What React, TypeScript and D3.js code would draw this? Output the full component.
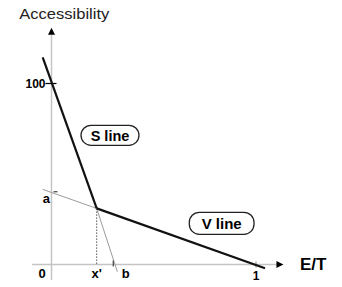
import React from "react";
import * as d3 from "d3";

// Data (in chart units: x = E/T, y = Accessibility)
const corner: [number, number] = [0.221, 31.0];
const sLine: [number, number][] = [[-0.043, 114.5], corner];
const vLine: [number, number][] = [corner, [1.044, -2.1]];
const aLine: [number, number][] = [[-0.043, 41.5], corner];
const bLine: [number, number][] = [corner, [0.322, -4.0]];
const aValue = 40.2;
const bValue = 0.302;
const yTickValues = [100];
const xTickValues = [1];
const xAxisExtent = [-0.095, 1.1];
const yAxisExtent = [-8.6, 127];

const W = 342;
const H = 287;
const FONT = "'Liberation Sans', Arial, Helvetica, sans-serif";

export default function App() {
  const x = d3.scaleLinear().domain([0, 1]).range([51.5, 256]);
  const y = d3.scaleLinear().domain([0, 100]).range([264.5, 83.5]);
  const line = d3
    .line<[number, number]>()
    .x((d) => x(d[0]))
    .y((d) => y(d[1]));

  const axisColor = "#c4c4c4";
  const x0 = x(0);
  const y0 = y(0);
  const yTop = y(yAxisExtent[1]);
  const xRight = x(xAxisExtent[1]);

  return (
    <svg
      width={W}
      height={H}
      style={{ position: "absolute", left: 0, top: 0, background: "#fff" }}
      fontFamily={FONT}
    >
      {/* axes */}
      <line x1={x0} y1={y(yAxisExtent[0])} x2={x0} y2={yTop} stroke={axisColor} strokeWidth={1.5} />
      <line x1={x(xAxisExtent[0])} y1={y0} x2={xRight} y2={y0} stroke={axisColor} strokeWidth={1.5} />
      {/* arrowheads */}
      <path d={`M${x0},${yTop - 7} L${x0 - 3.5},${yTop} L${x0 + 3.5},${yTop} Z`} fill="#000" />
      <path d={`M${xRight + 7},${y0} L${xRight},${y0 - 3.5} L${xRight},${y0 + 3.5} Z`} fill="#000" />

      {/* y ticks */}
      {yTickValues.map((v) => (
        <g key={v}>
          <line x1={x0 - 6} x2={x0 + 5} y1={y(v)} y2={y(v)} stroke="#000" strokeWidth={1.2} />
          <text x={x0 - 6} y={y(v) + 4} fontSize={12} fontWeight="bold" textAnchor="end">
            {v}
          </text>
        </g>
      ))}
      {/* x ticks */}
      {xTickValues.map((v) => (
        <g key={v}>
          <line x1={x(v)} x2={x(v)} y1={y0 - 3} y2={y0 + 3} stroke="#888" strokeWidth={1} />
          <text x={x(v)} y={279.5} fontSize={12} fontWeight="bold" textAnchor="middle">
            {v}
          </text>
        </g>
      ))}

      {/* helper gray lines */}
      <path d={line(aLine) || ""} fill="none" stroke="#9a9a9a" strokeWidth={1} />
      <path d={line(bLine) || ""} fill="none" stroke="#9a9a9a" strokeWidth={1} />
      <line x1={x0 + 2} x2={x0 + 6} y1={y(aValue)} y2={y(aValue)} stroke="#444" strokeWidth={1.2} />
      <line x1={x(bValue)} x2={x(bValue)} y1={y0 - 4} y2={y0 + 2} stroke="#444" strokeWidth={1.2} />
      <line
        x1={x(corner[0])}
        x2={x(corner[0])}
        y1={y(corner[1])}
        y2={y0}
        stroke="#555"
        strokeWidth={1}
        strokeDasharray="1.5,1.5"
      />

      {/* main lines */}
      <path d={line(sLine) || ""} fill="none" stroke="#111" strokeWidth={2.2} />
      <path d={line(vLine) || ""} fill="none" stroke="#111" strokeWidth={2.2} />

      {/* labels */}
      <text x={19.3} y={18.5} fontSize={15.5} textLength={90} lengthAdjust="spacingAndGlyphs" fill="#222">
        Accessibility
      </text>
      <text x={300} y={270} fontSize={17} fontWeight="bold">
        E/T
      </text>
      <text x={42.7} y={203} fontSize={13} fontWeight="bold">
        a
      </text>
      <text x={38.5} y={278} fontSize={13} fontWeight="bold">
        0
      </text>
      <text x={x(corner[0])} y={277.5} fontSize={13} fontWeight="bold" textAnchor="middle">
        x'
      </text>
      <text x={121.7} y={277.5} fontSize={13} fontWeight="bold">
        b
      </text>

      {/* boxed labels */}
      <rect x={81} y={125.3} width={58} height={20} rx={10} ry={10} fill="#fff" stroke="#222" strokeWidth={1.3} />
      <text x={110} y={141} fontSize={14.5} fontWeight="bold" textAnchor="middle">
        S line
      </text>
      <rect x={189.3} y={212.3} width={64.7} height={22} rx={10} ry={10} fill="#fff" stroke="#222" strokeWidth={1.3} />
      <text x={221.7} y={229} fontSize={15} fontWeight="bold" textAnchor="middle">
        V line
      </text>
    </svg>
  );
}
